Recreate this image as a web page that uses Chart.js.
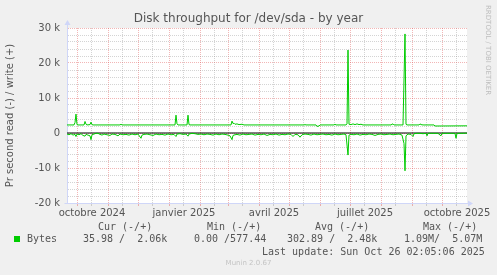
<!DOCTYPE html>
<html><head><meta charset="utf-8">
<script src="https://cdn.jsdelivr.net/npm/chart.js@4.4.1/dist/chart.umd.min.js"></script>
<style>
html,body{margin:0;padding:0;background:#f0f0f0;}
#wrap{position:relative;width:497px;height:275px;overflow:hidden;background:#f0f0f0;}
#c{position:absolute;left:0;top:0;}
.m{position:absolute;font-family:'DejaVu Sans Mono',monospace;font-size:10px;line-height:12px;color:#555;white-space:pre;}
.sq{position:absolute;left:14px;top:236px;width:6px;height:6px;background:#00cc00;}
.wm{position:absolute;left:483px;top:5px;font-family:'DejaVu Sans',sans-serif;font-size:7px;line-height:9px;color:#bdbdbd;writing-mode:vertical-rl;white-space:nowrap;}
.mv{position:absolute;left:0;width:497px;top:258px;text-align:center;font-family:'DejaVu Sans',sans-serif;font-size:7px;line-height:10px;color:#c4c4c4;}
</style></head>
<body><div id="wrap">
<canvas id="c" width="497" height="275"></canvas>
<div class="wm">RRDTOOL / TOBI OETIKER</div>
<div class="m" style="left:98px;top:221px">Cur (-/+)</div>
<div class="m" style="left:207px;top:221px">Min (-/+)</div>
<div class="m" style="left:315px;top:221px">Avg (-/+)</div>
<div class="m" style="left:423px;top:221px">Max (-/+)</div>
<div class="sq"></div>
<div class="m" style="left:27px;top:233px">Bytes</div>
<div class="m" style="left:83px;top:233px">35.98 /  2.06k</div>
<div class="m" style="left:194px;top:233px">0.00 /577.44</div>
<div class="m" style="left:287px;top:233px">302.89 /  2.48k</div>
<div class="m" style="left:404px;top:233px">1.09M/  5.07M</div>
<div class="m" style="left:262px;top:246px">Last update: Sun Oct 26 02:05:06 2025</div>
<div class="mv">Munin 2.0.67</div>
</div>
<script>
// Days counted from 21 Sep 2024 (graph start, 400 days before last update)
const writeDays  = [0, 7, 8, 9, 10, 11, 17, 18, 19, 20, 23, 24, 25, 26, 53, 54, 55, 108, 109, 110, 111, 120, 121, 122, 123, 164, 165, 166, 167, 168, 170, 172, 175, 177, 237, 238, 239, 249, 250, 252, 253, 267, 268, 269, 279, 280, 281, 282, 284, 286, 288, 290, 292, 294, 296, 324, 325, 326, 327, 335, 336, 338, 339, 340, 352, 353, 354, 356, 367, 368, 400];
const writeBytes = [2300, 2300, 3000, 5400, 2400, 2300, 2300, 3300, 2500, 2300, 2400, 3100, 2400, 2300, 2300, 2500, 2300, 2300, 5100, 2600, 2300, 2300, 5100, 2400, 2300, 2300, 3400, 2700, 2800, 2500, 2600, 2400, 2500, 2300, 2300, 2400, 2300, 2300, 1900, 2000, 2300, 2300, 2500, 2300, 2300, 2600, 23700, 2500, 2400, 2600, 2400, 2600, 2400, 2500, 2300, 2300, 2500, 2600, 2300, 2300, 2300, 28300, 2500, 2300, 2300, 2600, 2400, 2300, 2300, 2000, 2050];
const readDays  = [0, 2, 4, 6, 8, 9, 10, 12, 14, 16, 18, 19, 21, 23, 24, 25, 27, 29, 31, 33, 35, 37, 40, 43, 45, 48, 51, 53, 56, 59, 62, 65, 68, 71, 74, 75, 77, 80, 83, 86, 89, 92, 95, 98, 101, 104, 107, 109, 110, 113, 116, 119, 121, 122, 125, 128, 131, 134, 137, 140, 143, 146, 149, 152, 155, 158, 161, 163, 165, 166, 168, 170, 173, 176, 179, 182, 185, 188, 191, 194, 197, 200, 203, 206, 209, 212, 215, 218, 221, 224, 226, 228, 231, 233, 235, 238, 241, 244, 247, 250, 253, 256, 259, 262, 265, 268, 271, 274, 277, 279, 281, 282, 284, 287, 290, 293, 296, 299, 302, 305, 308, 311, 314, 317, 320, 323, 326, 329, 332, 335, 337, 338, 339, 341, 344, 346, 347, 350, 353, 356, 359, 360, 361, 364, 371, 374, 375, 380, 385, 388, 389, 390, 395, 400];
const readBytes = [300, 500, 200, 600, 400, 1000, 300, 500, 200, 700, 900, 400, 600, 800, 1900, 500, 300, 100, 100, 400, 600, 300, 500, 700, 300, 400, 800, 300, 500, 400, 600, 300, 500, 300, 1500, 600, 400, 300, 500, 700, 300, 500, 400, 600, 300, 500, 400, 1000, 300, 200, 400, 300, 900, 300, 100, 200, 400, 300, 500, 300, 400, 600, 300, 500, 300, 400, 600, 800, 1900, 700, 500, 400, 600, 300, 500, 400, 300, 600, 400, 500, 300, 700, 400, 500, 300, 600, 400, 500, 300, 400, 1000, 400, 500, 1200, 500, 300, 400, 600, 300, 500, 400, 300, 500, 400, 600, 300, 500, 400, 300, 500, 6300, 600, 400, 500, 300, 600, 400, 500, 300, 400, 700, 400, 300, 500, 400, 300, 500, 400, 300, 600, 3000, 10800, 800, 300, 400, 1000, 200, 100, 100, 200, 100, 800, 100, 100, 100, 800, 100, 100, 100, 100, 1500, 100, 100, 36];
const majorGridDays = [10, 41, 71, 102, 133, 161, 192, 222, 253, 283, 314, 345, 375];
const minorGridDays = [24, 55, 85, 116, 147, 175, 206, 236, 267, 297, 328, 359, 389];
const labelDays  = [25, 117, 207, 298, 390];
const labelTexts = ['octobre 2024', 'janvier 2025', 'avril 2025', 'juillet 2025', 'octobre 2025'];
const yTickValues = [-20000, -10000, 0, 10000, 20000, 30000];
const yTickLabels = ['-20 k', '-10 k', '0', '10 k', '20 k', '30 k'];

const GREEN = '#00cc00', GRID = 'rgba(143,143,143,0.38)', MGRID = 'rgba(224,80,80,0.42)', AXIS = '#CFD6F8', FONT = '#555555';

const writeData = writeDays.map((d, i) => ({x: d, y: writeBytes[i]}));
const readData  = readDays.map((d, i) => ({x: d, y: -readBytes[i]}));
const zeroData  = [{x: 0, y: 0}, {x: 400, y: 0}];

const xTickKind = {};
minorGridDays.forEach(d => xTickKind[d] = 'minor');
majorGridDays.forEach(d => xTickKind[d] = 'major');
labelDays.forEach((d, i) => { if (!xTickKind[d]) xTickKind[d] = 'label'; });
const xLabelFor = {};
labelDays.forEach((d, i) => xLabelFor[d] = labelTexts[i]);
const xColor = c => {
  const k = c.tick ? xTickKind[c.tick.value] : null;
  return k === 'major' ? MGRID : (k === 'minor' ? GRID : 'rgba(0,0,0,0)');
};

const decor = {
  id: 'decor',
  beforeDraw(chart) {
    const {ctx, chartArea: a} = chart;
    ctx.save(); ctx.fillStyle = '#ffffff';
    ctx.fillRect(a.left, a.top, a.right - a.left, a.bottom - a.top);
    ctx.restore();
  },
  afterDraw(chart) {
    const {ctx, chartArea: a} = chart;
    const L = Math.round(a.left) + 0.5, B = Math.round(a.bottom) + 0.5;
    ctx.save();
    ctx.strokeStyle = AXIS; ctx.fillStyle = AXIS; ctx.lineWidth = 1;
    ctx.beginPath(); ctx.moveTo(L, a.top); ctx.lineTo(L, a.top - 5); ctx.stroke();
    ctx.beginPath(); ctx.moveTo(L - 3, a.top - 3); ctx.lineTo(L + 3, a.top - 3); ctx.lineTo(L, a.top - 8); ctx.closePath(); ctx.fill();
    ctx.beginPath(); ctx.moveTo(a.right, B); ctx.lineTo(a.right + 3, B); ctx.stroke();
    ctx.beginPath(); ctx.moveTo(a.right + 1, B - 3); ctx.lineTo(a.right + 1, B + 3); ctx.lineTo(a.right + 6, B); ctx.closePath(); ctx.fill();
    ctx.beginPath(); ctx.moveTo(L - 3, B); ctx.lineTo(L, B); ctx.stroke();
    ctx.restore();
  }
};

Chart.defaults.font.family = "'DejaVu Sans', sans-serif";
Chart.defaults.color = FONT;

new Chart(document.getElementById('c'), {
  type: 'line',
  data: {
    datasets: [
      {label: 'read', data: readData, borderColor: GREEN, borderWidth: 1, pointRadius: 0, tension: 0, fill: false},
      {label: 'write', data: writeData, borderColor: GREEN, borderWidth: 1, pointRadius: 0, tension: 0, fill: false},
      {label: 'zero', data: zeroData, borderColor: '#000000', borderWidth: 1, pointRadius: 0, fill: false}
    ]
  },
  options: {
    responsive: false, animation: false, devicePixelRatio: 1,
    layout: {padding: {left: 0, right: 0, top: 0, bottom: 52}},
    plugins: {
      legend: {display: false}, tooltip: {enabled: false},
      title: {display: true, text: 'Disk throughput for /dev/sda - by year', color: FONT,
              font: {size: 12, weight: 'normal'}, padding: {top: 12, bottom: 1.6}}
    },
    scales: {
      x: {
        type: 'linear', min: 0, max: 400,
        afterBuildTicks: s => { s.ticks = Object.keys(xTickKind).map(Number).sort((a, b) => a - b).map(v => ({value: v})); },
        afterFit: s => { s.height = 20; },
        ticks: {autoSkip: false, maxRotation: 0, padding: 1, color: FONT, font: {size: 10},
                callback: v => xLabelFor[v] || ''},
        grid: {color: xColor, tickColor: xColor, tickLength: 3, drawTicks: true},
        border: {display: true, color: AXIS, dash: [1, 1]}
      },
      y: {
        type: 'linear', min: -20000, max: 30000,
        afterFit: s => { s.width = 67; },
        afterBuildTicks: s => { const t = []; for (let v = -20000; v <= 30000; v += 2000) t.push({value: v}); s.ticks = t; },
        ticks: {autoSkip: false, padding: 7, color: FONT, font: {size: 10},
                callback: v => { const i = yTickValues.indexOf(v); return i >= 0 ? yTickLabels[i] : ''; }},
        grid: {color: c => (c.tick && c.tick.value % 10000 === 0) ? MGRID : GRID, drawTicks: false},
        border: {display: true, color: AXIS, dash: [1, 1]},
        title: {display: true, text: 'Pr second read (-) / write (+)', color: FONT, font: {size: 10}, padding: {top: 4, bottom: 0}}
      },
      y2: {
        type: 'linear', position: 'right', display: true,
        afterFit: s => { s.width = 30; },
        ticks: {display: false}, grid: {display: false}, border: {display: false}
      }
    }
  },
  plugins: [decor]
});
</script>
</body></html>
